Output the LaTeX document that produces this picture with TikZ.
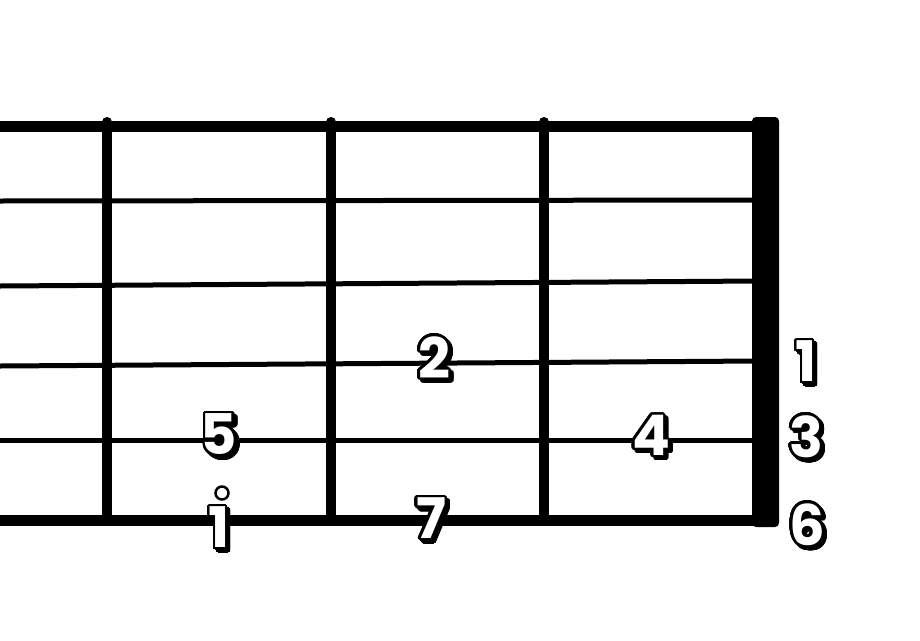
\documentclass[tikz,border=0pt]{standalone}
\usepackage{fontspec}
\usepackage{contour}
\newfontfamily\notefont{Poppins}
\contourlength{2.4pt}
\contournumber{32}
\newcommand{\notenum}[1]{\rlap{\hspace{3pt}\raisebox{-3pt}{\contour{black}{#1}}}{\color{white}\contour{black}{#1}}}

\begin{document}
\begin{tikzpicture}[x=1pt, y=-1pt,
    string/.style={line width=5pt},
    outer/.style={line width=11pt},
    fret/.style={line width=10pt, line cap=round},
    note/.style={font=\notefont\bfseries\fontsize{56}{56}\selectfont, inner sep=0pt}]
  \useasboundingbox (0,0) rectangle (920,640);

  % strings
  \draw[outer] (0,126) -- (760,126);
  \draw[string] (0,201) -- (760,200);
  \draw[string] (0,286) -- (760,281);
  \draw[string] (0,366) -- (760,361);
  \draw[string] (0,440) -- (760,440);
  \draw[outer] (0,520) -- (760,520);

  % frets and nut
  \foreach \x in {107,331,544}
    \draw[fret] (\x,122) -- (\x,521);
  \fill[rounded corners=4pt] (752,117) rectangle (779,527);

  % notes
  \node[note] (n2) at (434,360) {\notenum{2}};
  \node[note] (n5) at (219,437) {\notenum{5}};
  \node[note] (n1) at (219,530) {\notenum{1}};
  \node[circle, draw, fill=white, line width=2.5pt, minimum size=13pt, inner sep=0pt] (dot) at (222,493) {};
  \node[note] (n7) at (431,521) {\notenum{7}};
  \node[note] (n4) at (651,438) {\notenum{4}};

  % open strings
  \node[note] (o1) at (806,364) {\notenum{1}};
  \node[note] (o3) at (806,439) {\notenum{3}};
  \node[note] (o6) at (807,527) {\notenum{6}};
\end{tikzpicture}
\end{document}
